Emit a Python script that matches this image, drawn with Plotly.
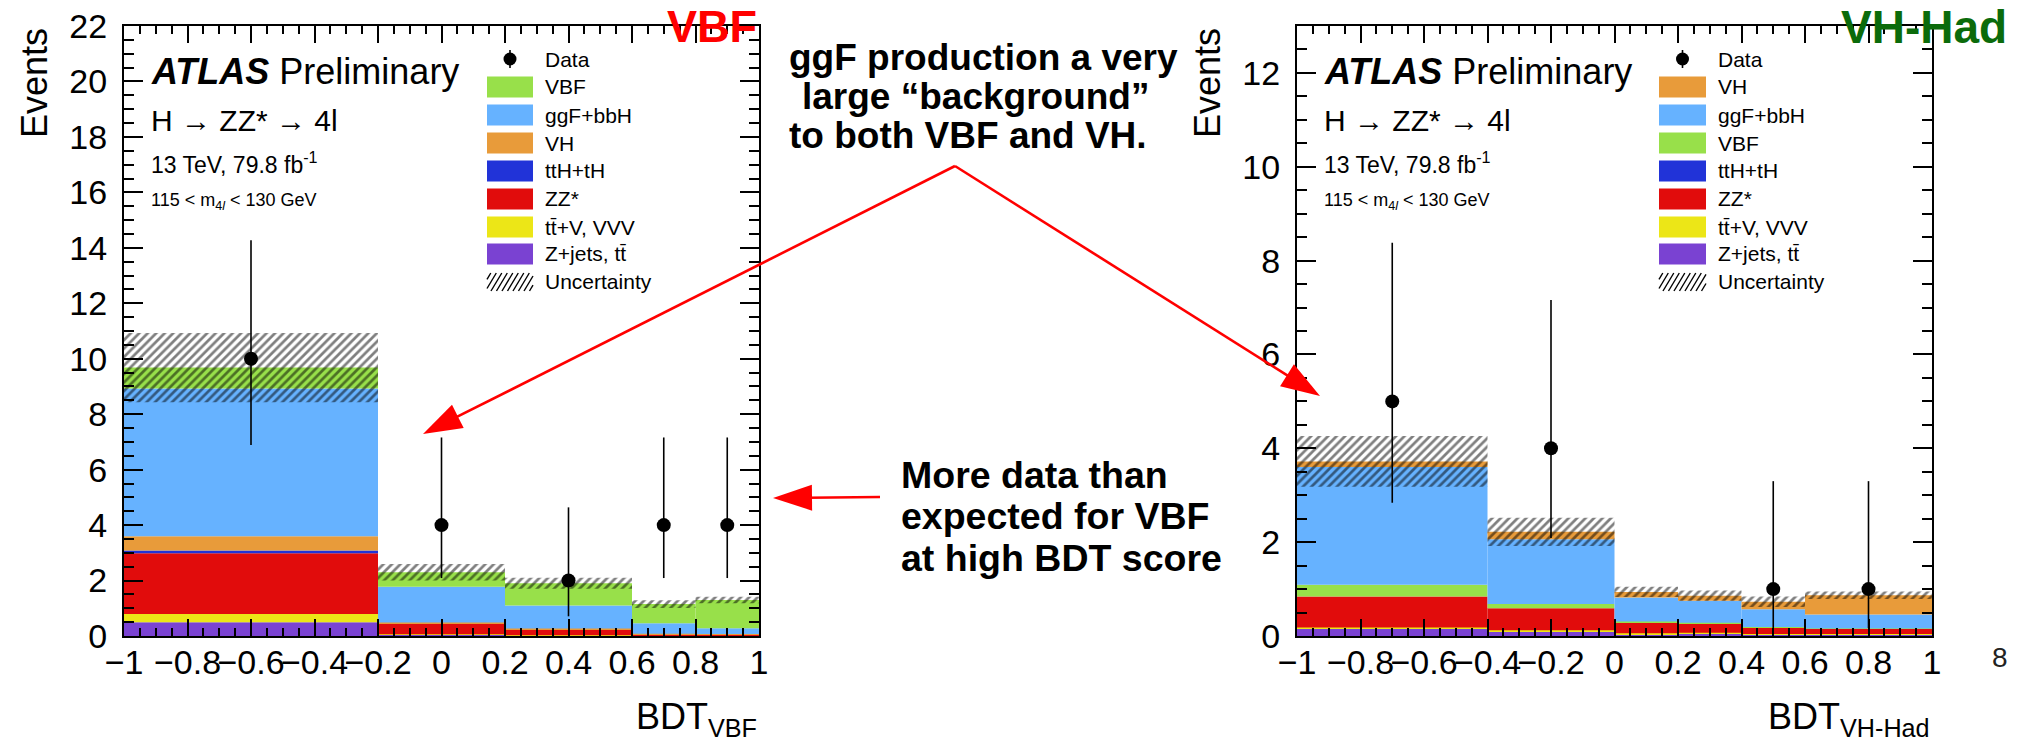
import numpy as np
import plotly.graph_objects as go

W, H = 2029, 743
FONT = "Liberation Sans"

# ---------------- data: VBF panel ----------------
vbf_edges = [-1.0, -0.2, 0.2, 0.6, 0.8, 1.0]
vbf_zjets = [0.50, 0.04, 0.02, 0.02, 0.02]
vbf_ttv = [0.29, 0.02, 0.01, 0.00, 0.00]
vbf_zz = [2.19, 0.38, 0.22, 0.05, 0.04]
vbf_tth = [0.10, 0.01, 0.00, 0.00, 0.00]
vbf_vh = [0.52, 0.04, 0.02, 0.01, 0.01]
vbf_ggf = [5.33, 1.29, 0.83, 0.38, 0.21]
vbf_vbf = [0.75, 0.52, 0.80, 0.69, 1.02]
vbf_unc = [1.25, 0.30, 0.20, 0.14, 0.12]
vbf_data_x = [-0.6, 0.0, 0.4, 0.7, 0.9]
vbf_data_y = [10, 4, 2, 4, 4]
vbf_data_up = [4.27, 3.16, 2.64, 3.16, 3.16]
vbf_data_dn = [3.11, 1.91, 1.29, 1.91, 1.91]

# ---------------- data: VH-Had panel ----------------
vh_edges = [-1.0, -0.4, 0.0, 0.2, 0.4, 0.6, 1.0]
vh_zjets = [0.17, 0.10, 0.04, 0.05, 0.03, 0.03]
vh_ttv = [0.01, 0.02, 0.02, 0.02, 0.01, 0.01]
vh_zz = [0.66, 0.47, 0.22, 0.19, 0.14, 0.11]
vh_tth = [0.00, 0.00, 0.00, 0.00, 0.00, 0.00]
vh_vbf = [0.25, 0.09, 0.03, 0.02, 0.01, 0.01]
vh_ggf = [2.51, 1.38, 0.51, 0.47, 0.38, 0.30]
vh_vh = [0.12, 0.16, 0.12, 0.11, 0.16, 0.41]
vh_unc = [0.54, 0.30, 0.11, 0.11, 0.11, 0.08]
vh_data_x = [-0.7, -0.2, 0.5, 0.8]
vh_data_y = [5, 4, 1, 1]
vh_data_up = [3.38, 3.16, 2.30, 2.30]
vh_data_dn = [2.16, 1.91, 0.83, 0.83]

x_tick_vals = [-1.0, -0.8, -0.6, -0.4, -0.2, 0.0, 0.2, 0.4, 0.6, 0.8, 1.0]
x_tick_text = ["\u22121", "\u22120.8", "\u22120.6", "\u22120.4", "\u22120.2", "0", "0.2", "0.4", "0.6", "0.8", "1"]
vbf_y_ticks = [0, 2, 4, 6, 8, 10, 12, 14, 16, 18, 20, 22]
vh_y_ticks = [0, 2, 4, 6, 8, 10, 12]

COL = {
    "VBF": "#98e04a",
    "ggF+bbH": "#66b2ff",
    "VH": "#e89b3a",
    "ttH+tH": "#2133d8",
    "ZZ*": "#e10c0c",
    "ttV": "#ece617",
    "Zjets": "#7a42d2",
}

fig = go.Figure()


def add_panel(edges, comps, unc, dx, dy, du, dd, xa, ya):
    e = np.array(edges)
    centers = (e[:-1] + e[1:]) / 2
    widths = e[1:] - e[:-1]
    base = np.zeros(len(centers))
    for name, vals in comps:
        v = np.array(vals)
        fig.add_trace(go.Bar(x=centers, y=v, base=base.copy(), width=widths,
                             marker=dict(color=COL[name], line=dict(width=0)),
                             xaxis=xa, yaxis=ya, showlegend=False, name=name))
        base = base + v
    u = np.array(unc)
    fig.add_trace(go.Bar(x=centers, y=2 * u, base=base - u, width=widths,
                         marker=dict(color="rgba(0,0,0,0)", line=dict(width=0),
                                     pattern=dict(shape="/", fgcolor="black", bgcolor="rgba(0,0,0,0)",
                                                  size=6, solidity=0.45, fillmode="overlay")),
                         xaxis=xa, yaxis=ya, showlegend=False, name="Uncertainty"))
    fig.add_trace(go.Scatter(x=dx, y=dy, mode="markers",
                             marker=dict(color="black", size=14),
                             error_y=dict(type="data", symmetric=False, array=du, arrayminus=dd,
                                          thickness=1.6, width=0, color="black"),
                             xaxis=xa, yaxis=ya, showlegend=False, name="Data"))


add_panel(vbf_edges,
          [("Zjets", vbf_zjets), ("ttV", vbf_ttv), ("ZZ*", vbf_zz), ("ttH+tH", vbf_tth),
           ("VH", vbf_vh), ("ggF+bbH", vbf_ggf), ("VBF", vbf_vbf)],
          vbf_unc, vbf_data_x, vbf_data_y, vbf_data_up, vbf_data_dn, "x", "y")
add_panel(vh_edges,
          [("Zjets", vh_zjets), ("ttV", vh_ttv), ("ZZ*", vh_zz), ("ttH+tH", vh_tth),
           ("VBF", vh_vbf), ("ggF+bbH", vh_ggf), ("VH", vh_vh)],
          vh_unc, vh_data_x, vh_data_y, vh_data_up, vh_data_dn, "x2", "y2")


def px(x):
    return x / W


def py(y):
    return 1 - y / H


common = dict(showline=True, linecolor="black", linewidth=2, mirror="allticks",
              ticks="inside", tickcolor="black", tickwidth=1.5, showgrid=False, zeroline=False,
              automargin=False, tickangle=0,
              tickfont=dict(family=FONT, size=34, color="black"))

xstyle = dict(common, range=[-1, 1], tickmode="array", tickvals=x_tick_vals, ticktext=x_tick_text,
              ticklen=17, ticklabelstandoff=-5,
              minor=dict(ticks="inside", ticklen=8, tickwidth=1.5, tickcolor="black", dtick=0.05, tick0=-1))
ystyle = dict(common, ticklen=19, ticklabelstandoff=8,
              minor=dict(ticks="inside", ticklen=10, tickwidth=1.5, tickcolor="black", dtick=0.5, tick0=0))

fig.update_layout(
    template="none",
    width=W, height=H, margin=dict(l=0, r=0, t=0, b=0, pad=0), autosize=False,
    paper_bgcolor="white", plot_bgcolor="white", barmode="overlay", showlegend=False,
    xaxis=dict(xstyle, domain=[px(124), px(759)], anchor="y"),
    yaxis=dict(ystyle, domain=[py(636), py(26)], range=[0, 22], anchor="x",
               tickmode="array", tickvals=vbf_y_ticks),
    xaxis2=dict(xstyle, domain=[px(1297), px(1932)], anchor="y2"),
    yaxis2=dict(ystyle, domain=[py(636), py(26)], range=[0, 13], anchor="x2",
                tickmode="array", tickvals=vh_y_ticks),
)

ann = []
shapes = []


def text(x, y, t, size, xanchor="left", yanchor="middle", color="black", angle=0, family=FONT):
    ann.append(dict(x=px(x), y=py(y), xref="paper", yref="paper", text=t, showarrow=False,
                    xanchor=xanchor, yanchor=yanchor, textangle=angle,
                    font=dict(family=family, size=size, color=color)))


# panel texts
for x0 in (149, 1322):
    text(x0, 71, "<b><i>ATLAS</i></b> Preliminary", 36)
    text(x0, 120, "H \u2192 ZZ* \u2192 4l", 30)
    text(x0, 163, "13 TeV, 79.8 fb<sup>-1</sup>", 23)
    text(x0, 201, "115 < m<sub>4<i>l</i></sub> < 130 GeV", 18)

text(35, 83, "Events", 36, xanchor="center", angle=-90)
text(1208, 83, "Events", 36, xanchor="center", angle=-90)
text(759, 719, "BDT<sub>VBF</sub>", 36, xanchor="right")
text(1932, 719, "BDT<sub>VH-Had</sub>", 36, xanchor="right")

text(712, 26, "<b>VBF</b>", 45, xanchor="center", color="#ff0000")
text(1924, 27, "<b>VH-Had</b>", 46, xanchor="center", color="#0b6b0b")
text(2000, 657, "8", 28, xanchor="center", color="#222222")

# legends
leg_rows = [59, 87, 115, 143, 171, 199, 227, 254, 282]
vbf_leg = ["Data", "VBF", "ggF+bbH", "VH", "ttH+tH", "ZZ*", "ttV", "Zjets", "Uncertainty"]
vh_leg = ["Data", "VH", "ggF+bbH", "VBF", "ttH+tH", "ZZ*", "ttV", "Zjets", "Uncertainty"]
labels = {"Data": "Data", "VBF": "VBF", "ggF+bbH": "ggF+bbH", "VH": "VH", "ttH+tH": "ttH+tH",
          "ZZ*": "ZZ*", "ttV": "tt\u0304+V, VVV", "Zjets": "Z+jets, tt\u0304", "Uncertainty": "Uncertainty"}
for (sx0, sx1, tx, entries) in ((487, 533, 543, vbf_leg), (1659, 1706, 1716, vh_leg)):
    for yrow, key in zip(leg_rows, entries):
        text(tx, yrow, labels[key], 21)
        if key == "Data":
            cx = (sx0 + sx1) / 2
            shapes.append(dict(type="line", xref="paper", yref="paper", x0=px(cx), x1=px(cx),
                               y0=py(yrow - 9), y1=py(yrow + 9), line=dict(color="black", width=1.6)))
            shapes.append(dict(type="circle", xref="paper", yref="paper", x0=px(cx - 6.5), x1=px(cx + 6.5),
                               y0=py(yrow - 6.5), y1=py(yrow + 6.5), fillcolor="black", line=dict(width=0)))
        elif key == "Uncertainty":
            y0, y1 = yrow - 9, yrow + 9
            for k in np.arange(sx0 - 18, sx1, 5.5):
                xa, xb = k, k + (y1 - y0) * 0.6
                ya_, yb_ = y1, y0
                if xa < sx0:
                    ya_ = y1 - (sx0 - xa) / 0.6
                    xa = sx0
                if xb > sx1:
                    yb_ = y0 + (xb - sx1) / 0.6
                    xb = sx1
                if xb <= xa:
                    continue
                shapes.append(dict(type="line", xref="paper", yref="paper", x0=px(xa), x1=px(xb),
                                   y0=py(ya_), y1=py(yb_), line=dict(color="black", width=1.4)))
        else:
            shapes.append(dict(type="rect", xref="paper", yref="paper", x0=px(sx0), x1=px(sx1),
                               y0=py(yrow - 10.5), y1=py(yrow + 10.5), fillcolor=COL[key],
                               line=dict(width=0)))

# callout texts
for xx, yy, t in zip([787, 800, 787], [58, 97, 136],
                     ["ggF production a very", "large \u201cbackground\u201d", "to both VBF and VH."]):
    text(xx, yy, "<b>" + t + "</b>", 37, xanchor="left")
for yy, t in zip([475, 516, 558], ["More data than", "expected for VBF", "at high BDT score"]):
    text(899, yy, "<b>" + t + "</b>", 37.5, xanchor="left")


def arrow(tail, tip, L=39, Wd=26, color="#ff0000", lw=2.6):
    t = np.array(tail, float)
    p = np.array(tip, float)
    d = (p - t) / np.linalg.norm(p - t)
    n = np.array([-d[1], d[0]])
    b = p - d * L
    shapes.append(dict(type="line", xref="paper", yref="paper", x0=px(t[0]), y0=py(t[1]),
                       x1=px(b[0] + d[0] * 5), y1=py(b[1] + d[1] * 5), line=dict(color=color, width=lw)))
    c1 = b + n * Wd / 2
    c2 = b - n * Wd / 2
    path = "M {},{} L {},{} L {},{} Z".format(px(p[0]), py(p[1]), px(c1[0]), py(c1[1]), px(c2[0]), py(c2[1]))
    shapes.append(dict(type="path", xref="paper", yref="paper", path=path, fillcolor=color,
                       line=dict(width=0)))


arrow((955, 166), (423, 434))
arrow((955, 166), (1320, 396))
arrow((880, 497), (773, 498))

fig.update_layout(annotations=ann, shapes=shapes)
fig.write_html("out.html")
